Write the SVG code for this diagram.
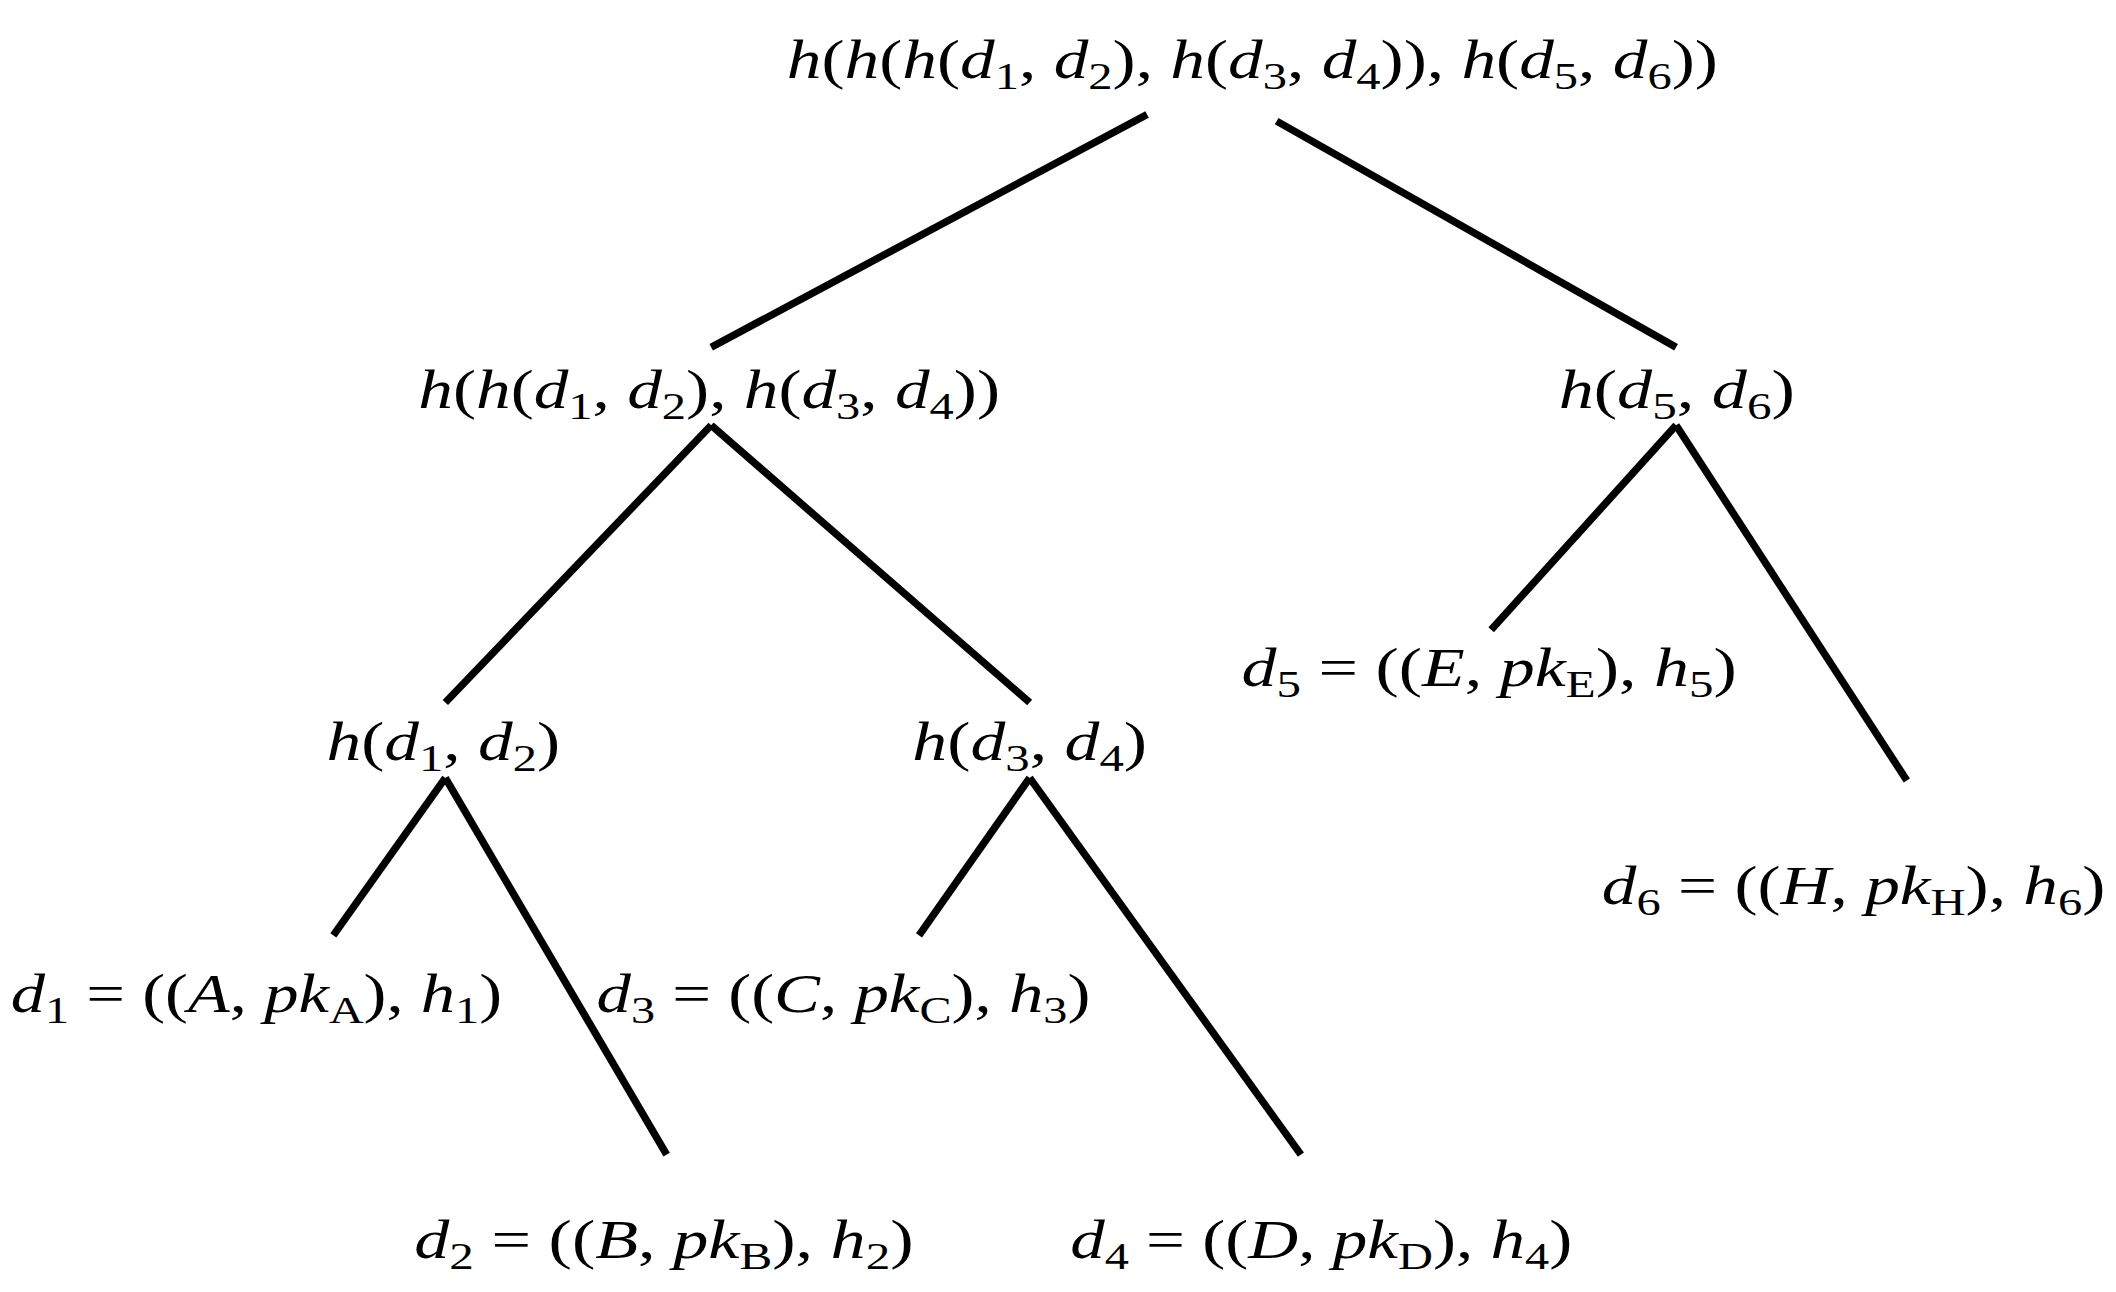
<svg xmlns="http://www.w3.org/2000/svg" width="2116" height="1292" viewBox="0 0 2116 1292">
<style>
text{font-family:"Liberation Serif","DejaVu Serif",serif;font-size:40px;font-style:italic;fill:#000}
.s{font-size:28px;font-style:normal}
.n{font-style:normal}
line{stroke:#000;stroke-width:5.5;stroke-linecap:butt}
</style>
<rect width="2116" height="1292" fill="#fff"/>
<g transform="scale(1.3495 1.3458)">
<g id="connectors">
<line x1="850" y1="85" x2="527" y2="258"/>
<line x1="946" y1="90" x2="1242" y2="258"/>
<line x1="527" y1="316" x2="330" y2="522"/>
<line x1="527" y1="316" x2="763" y2="522"/>
<line x1="1242" y1="316" x2="1105" y2="468"/>
<line x1="1242" y1="316" x2="1413" y2="580"/>
<line x1="330" y1="578" x2="247" y2="695"/>
<line x1="330" y1="578" x2="494" y2="858"/>
<line x1="763" y1="578" x2="681" y2="695"/>
<line x1="763" y1="578" x2="964" y2="858"/>
</g>
<g id="root"><text x="583" y="58" textLength="690" lengthAdjust="spacingAndGlyphs">h<tspan class="n">(</tspan>h<tspan class="n">(</tspan>h<tspan class="n">(</tspan>d<tspan class="s" dy="8">1</tspan><tspan class="n" dy="-8">,</tspan> d<tspan class="s" dy="8">2</tspan><tspan class="n" dy="-8">),</tspan> h<tspan class="n">(</tspan>d<tspan class="s" dy="8">3</tspan><tspan class="n" dy="-8">,</tspan> d<tspan class="s" dy="8">4</tspan><tspan class="n" dy="-8">)),</tspan> h<tspan class="n">(</tspan>d<tspan class="s" dy="8">5</tspan><tspan class="n" dy="-8">,</tspan> d<tspan class="s" dy="8">6</tspan><tspan class="n" dy="-8">))</tspan></text></g>
<g id="n12_34"><text x="310" y="303" textLength="431" lengthAdjust="spacingAndGlyphs">h<tspan class="n">(</tspan>h<tspan class="n">(</tspan>d<tspan class="s" dy="8">1</tspan><tspan class="n" dy="-8">,</tspan> d<tspan class="s" dy="8">2</tspan><tspan class="n" dy="-8">),</tspan> h<tspan class="n">(</tspan>d<tspan class="s" dy="8">3</tspan><tspan class="n" dy="-8">,</tspan> d<tspan class="s" dy="8">4</tspan><tspan class="n" dy="-8">))</tspan></text></g>
<g id="n56"><text x="1155" y="303" textLength="175" lengthAdjust="spacingAndGlyphs">h<tspan class="n">(</tspan>d<tspan class="s" dy="8">5</tspan><tspan class="n" dy="-8">,</tspan> d<tspan class="s" dy="8">6</tspan><tspan class="n" dy="-8">)</tspan></text></g>
<g id="n12"><text x="242" y="565" textLength="173" lengthAdjust="spacingAndGlyphs">h<tspan class="n">(</tspan>d<tspan class="s" dy="8">1</tspan><tspan class="n" dy="-8">,</tspan> d<tspan class="s" dy="8">2</tspan><tspan class="n" dy="-8">)</tspan></text></g>
<g id="n34"><text x="676" y="565" textLength="174" lengthAdjust="spacingAndGlyphs">h<tspan class="n">(</tspan>d<tspan class="s" dy="8">3</tspan><tspan class="n" dy="-8">,</tspan> d<tspan class="s" dy="8">4</tspan><tspan class="n" dy="-8">)</tspan></text></g>
<g id="d5"><text x="920" y="510" textLength="367" lengthAdjust="spacingAndGlyphs">d<tspan class="s" dy="8">5</tspan><tspan class="n" dy="-8"> = ((</tspan>E<tspan class="n">,</tspan> pk<tspan class="s" dy="8" font-style="italic">E</tspan><tspan class="n" dy="-8">),</tspan> h<tspan class="s" dy="8">5</tspan><tspan class="n" dy="-8">)</tspan></text></g>
<g id="d6"><text x="1187" y="672" textLength="373" lengthAdjust="spacingAndGlyphs">d<tspan class="s" dy="8">6</tspan><tspan class="n" dy="-8"> = ((</tspan>H<tspan class="n">,</tspan> pk<tspan class="s" dy="8" font-style="italic">H</tspan><tspan class="n" dy="-8">),</tspan> h<tspan class="s" dy="8">6</tspan><tspan class="n" dy="-8">)</tspan></text></g>
<g id="d1"><text x="8" y="752" textLength="364" lengthAdjust="spacingAndGlyphs">d<tspan class="s" dy="8">1</tspan><tspan class="n" dy="-8"> = ((</tspan>A<tspan class="n">,</tspan> pk<tspan class="s" dy="8" font-style="italic">A</tspan><tspan class="n" dy="-8">),</tspan> h<tspan class="s" dy="8">1</tspan><tspan class="n" dy="-8">)</tspan></text></g>
<g id="d3"><text x="442" y="752" textLength="366" lengthAdjust="spacingAndGlyphs">d<tspan class="s" dy="8">3</tspan><tspan class="n" dy="-8"> = ((</tspan>C<tspan class="n">,</tspan> pk<tspan class="s" dy="8" font-style="italic">C</tspan><tspan class="n" dy="-8">),</tspan> h<tspan class="s" dy="8">3</tspan><tspan class="n" dy="-8">)</tspan></text></g>
<g id="d2"><text x="307" y="935" textLength="370" lengthAdjust="spacingAndGlyphs">d<tspan class="s" dy="8">2</tspan><tspan class="n" dy="-8"> = ((</tspan>B<tspan class="n">,</tspan> pk<tspan class="s" dy="8" font-style="italic">B</tspan><tspan class="n" dy="-8">),</tspan> h<tspan class="s" dy="8">2</tspan><tspan class="n" dy="-8">)</tspan></text></g>
<g id="d4"><text x="793" y="935" textLength="372" lengthAdjust="spacingAndGlyphs">d<tspan class="s" dy="8">4</tspan><tspan class="n" dy="-8"> = ((</tspan>D<tspan class="n">,</tspan> pk<tspan class="s" dy="8" font-style="italic">D</tspan><tspan class="n" dy="-8">),</tspan> h<tspan class="s" dy="8">4</tspan><tspan class="n" dy="-8">)</tspan></text></g>
</g>
</svg>
